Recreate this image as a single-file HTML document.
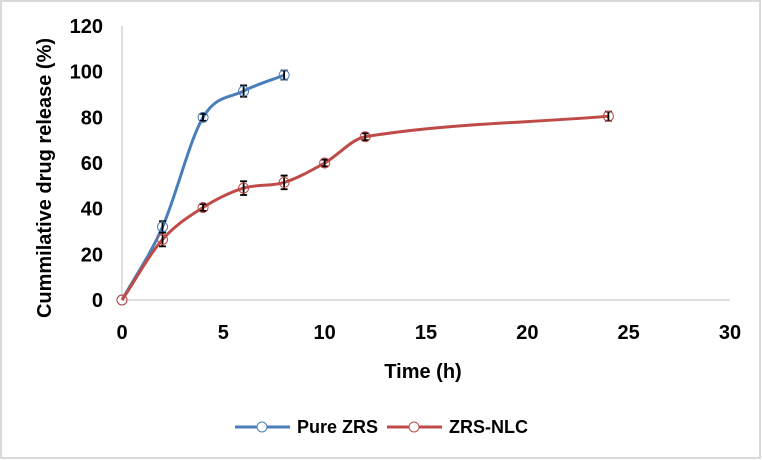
<!DOCTYPE html>
<html><head><meta charset="utf-8"><style>
body{margin:0;background:#fff}
svg{display:block;font-family:"Liberation Sans",Arial,sans-serif;font-weight:bold}
</style></head><body>
<svg id="c" width="762" height="460">
<rect x="1" y="1" width="759" height="457" fill="#fff" stroke="#d9d9d9" stroke-width="2"/>
<g id="g"></g>
</svg>
<script>
const xTicks=[0,5,10,15,20,25,30];
const yTicks=[0,20,40,60,80,100,120];
const pureX=[0,2,4,6,8];
const pureY=[0,32,80,91.5,98.5];
const pureErr=[0,2.5,1.5,2.5,2];
const nlcX=[0,2,4,6,8,10,12,24];
const nlcY=[0,26.5,40.5,49,51.5,60,71.5,80.5];
const nlcErr=[0,3,1.5,3,3,1.5,1.5,2];

const X0=122,X1=730,Y0=300,Y1=26;
const sx=v=>X0+(v-0)/(30)*(X1-X0);
const sy=v=>Y0-(v/120)*(Y0-Y1);
const NS="http://www.w3.org/2000/svg";
const g=document.getElementById('g');
function mk(t,a,p){const e=document.createElementNS(NS,t);for(const k in a)e.setAttribute(k,a[k]);(p||g).appendChild(e);return e;}

let e=mk('line',{x1:X0,y1:Y1,x2:X0,y2:Y0,stroke:'#bfbfbf'});


e=mk('line',{x1:X0,y1:Y0,x2:X1,y2:Y0,stroke:'#bfbfbf'});


yTicks.forEach(v=>{const t=mk('text',{x:X0-19,y:sy(v)+7,'text-anchor':'end','font-size':20});t.textContent=v;

});
xTicks.forEach(v=>{const t=mk('text',{x:sx(v),y:339,'text-anchor':'middle','font-size':20});t.textContent=v;

});
e=mk('text',{x:423,y:378,'text-anchor':'middle','font-size':20});e.textContent='Time (h)';


e=mk('text',{x:0,y:0,'text-anchor':'middle','font-size':20,transform:'translate(51,178) rotate(-90)'});e.textContent='Cummilative drug release (%)';



function path(xs,ys){const n=xs.length;const m=[];
for(let i=0;i<n;i++){const a=Math.max(0,i-1),b=Math.min(n-1,i+1);m.push((ys[b]-ys[a])/(xs[b]-xs[a]));}
let d='M'+sx(xs[0])+','+sy(ys[0]);
for(let i=0;i<n-1;i++){const h=(xs[i+1]-xs[i])/3;
d+=' C'+sx(xs[i]+h)+','+sy(ys[i]+m[i]*h)+' '+sx(xs[i+1]-h)+','+sy(ys[i+1]-m[i+1]*h)+' '+sx(xs[i+1])+','+sy(ys[i+1]);}return d;}
function series(xs,ys,er,col,name){
 const p=mk('path',{d:path(xs,ys),fill:'none',stroke:col,'stroke-width':3});
 
 
 xs.forEach((x,i)=>{const cx=sx(x),cy=sy(ys[i]);
  if(er[i]>0){const a=sy(ys[i]+er[i]),b=sy(ys[i]-er[i]);
   const eb=mk('path',{d:`M${cx},${a}V${b}M${cx-3.5},${a}H${cx+3.5}M${cx-3.5},${b}H${cx+3.5}`,stroke:'#000','stroke-width':1.8,fill:'none'});
   
   }
  const c=mk('circle',{cx:cx,cy:cy,r:5,fill:'none',stroke:col,'stroke-width':1});
  
  });
}
series(pureX,pureY,pureErr,'#4a7ebb','pure-zrs');
series(nlcX,nlcY,nlcErr,'#be4b48','zrs-nlc');

function leg(x,col,txt,name){const lg=mk('g',{});
 
 
 mk('line',{x1:x,y1:427,x2:x+55,y2:427,stroke:col,'stroke-width':3},lg);
 mk('circle',{cx:x+27,cy:427,r:5,fill:'#fff',stroke:col},lg);
 const t=mk('text',{x:x+62,y:433,'font-size':18},lg);t.textContent=txt;}
leg(235,'#4a7ebb','Pure ZRS','legend-pure-zrs');
leg(387,'#be4b48','ZRS-NLC','legend-zrs-nlc');
</script>
</body></html>
